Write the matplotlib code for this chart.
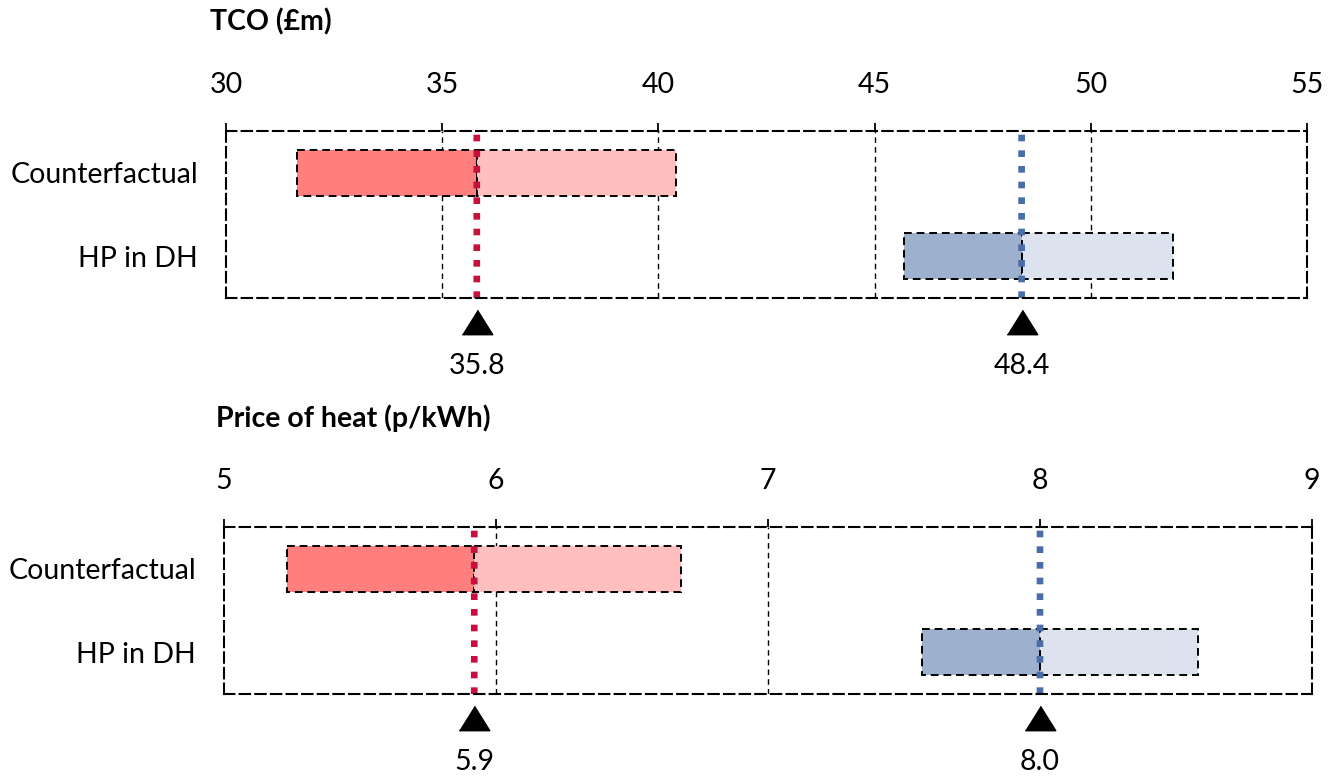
import matplotlib
matplotlib.use("Agg")
import matplotlib.pyplot as plt
import matplotlib.transforms as mtransforms

plt.rcParams['font.family'] = ['Lato', 'DejaVu Sans']

categories = ["Counterfactual", "HP in DH"]

# TCO (£m)
tco_low = [31.65, 45.68]
tco_mid = [35.8, 48.4]
tco_high = [40.4, 51.9]
tco_ticks = [30, 35, 40, 45, 50, 55]
tco_labels = ["35.8", "48.4"]

# Price of heat (p/kWh)
price_low = [5.23, 7.565]
price_mid = [5.92, 8.0]
price_high = [6.68, 8.58]
price_ticks = [5, 6, 7, 8, 9]
price_labels = ["5.9", "8.0"]

dark_colors = ["#FF7F7F", "#9DB0CE"]
light_colors = ["#FFBFBF", "#DDE3EE"]
line_colors = ["#C8103F", "#4A6DA7"]

FS = 20.5
W, H = 1336, 778
fig = plt.figure(figsize=(W / 100, H / 100), dpi=100)


def make_panel(rect, title, title_xy, low, mid, high, ticks, labels):
    ax = fig.add_axes(rect)
    ax.set_xlim(ticks[0], ticks[-1])
    ax.set_ylim(1.5, -0.5)
    # gridlines (interior ticks), hidden where a median line sits on top
    for t in ticks[1:-1]:
        if any(abs(t - m) < 0.01 for m in mid):
            continue
        ax.axvline(t, color="black", lw=1.0, linestyle=(0, (4, 3)), zorder=0.5)
    trans = mtransforms.blended_transform_factory(ax.transData, ax.transAxes)
    for i in range(len(categories)):
        ax.barh(i, mid[i] - low[i], left=low[i], height=0.55,
                color=dark_colors[i], edgecolor="black", linewidth=1.4,
                linestyle=(0, (4, 2.5)), zorder=2)
        ax.barh(i, high[i] - mid[i], left=mid[i], height=0.55,
                color=light_colors[i], edgecolor="black", linewidth=1.4,
                linestyle=(0, (4, 2.5)), zorder=2)
        ln = ax.axvline(mid[i], color=line_colors[i], lw=4.8,
                        linestyle=(0, (1, 1.35)), dash_capstyle="butt", zorder=3)
        ln.set_snap(False)
        ax.plot(mid[i], -0.141, marker=[(-1, -0.8), (1, -0.8), (0, 0.8)],
                markersize=22, color="black", transform=trans, clip_on=False)
        ax.text(mid[i], -0.41, labels[i], transform=trans, ha="center",
                va="center", fontsize=FS)
    for s in ax.spines.values():
        s.set_linestyle((0, (5, 2.5)))
        s.set_linewidth(1.5)
        s.set_color("black")
        s.set_zorder(4)
    ax.xaxis.tick_top()
    ax.set_xticks(ticks)
    ax.set_xticklabels([str(t) for t in ticks])
    ax.tick_params(axis="x", direction="out", length=6, width=1.3,
                   pad=18, labelsize=FS)
    ax.set_yticks(range(len(categories)))
    ax.set_yticklabels(categories)
    ax.tick_params(axis="y", length=0, pad=20, labelsize=FS)
    fig.text(title_xy[0], title_xy[1], title, fontsize=FS, fontweight="bold",
             ha="left", va="center")
    return ax


make_panel([226 / W, 1 - 298 / H, (1307 - 226) / W, (298 - 131) / H],
           "TCO (£m)", (210 / W, 1 - 22 / H),
           tco_low, tco_mid, tco_high, tco_ticks, tco_labels)
make_panel([224 / W, 1 - 694 / H, (1312 - 224) / W, (694 - 527) / H],
           "Price of heat (p/kWh)", (216 / W, 1 - 418 / H),
           price_low, price_mid, price_high, price_ticks, price_labels)

fig.savefig("out.png", dpi=100)
